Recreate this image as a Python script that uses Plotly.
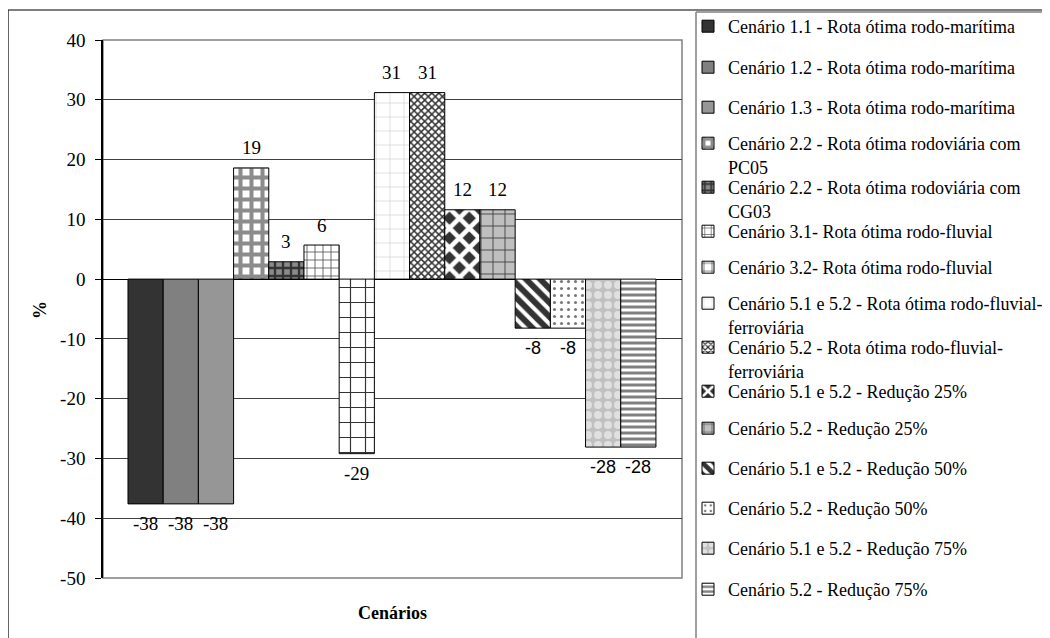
import plotly.graph_objects as go

# ---- data ----
scenarios = [
    "Cenário 1.1 - Rota ótima rodo-marítima",
    "Cenário 1.2 - Rota ótima rodo-marítima",
    "Cenário 1.3 - Rota ótima rodo-marítima",
    "Cenário 2.2 - Rota ótima rodoviária com<br>PC05",
    "Cenário 2.2 - Rota ótima rodoviária com<br>CG03",
    "Cenário 3.1- Rota ótima rodo-fluvial",
    "Cenário 3.2- Rota ótima rodo-fluvial",
    "Cenário 5.1 e 5.2 - Rota ótima rodo-fluvial-<br>ferroviária",
    "Cenário 5.2 - Rota ótima rodo-fluvial-<br>ferroviária",
    "Cenário 5.1 e 5.2 - Redução 25%",
    "Cenário 5.2 - Redução 25%",
    "Cenário 5.1 e 5.2 - Redução 50%",
    "Cenário 5.2 - Redução 50%",
    "Cenário 5.1 e 5.2 - Redução 75%",
    "Cenário 5.2 - Redução 75%",
]
values = [-37.6, -37.6, -37.6, 18.6, 2.9, 5.7, -29.2, 31.2, 31.2, 11.6, 11.6, -8.2, -8.2, -28.1, -28.1]
y_ticks = [-50, -40, -30, -20, -10, 0, 10, 20, 30, 40]
y_tick_labels = ["-50", "-40", "-30", "-20", "-10", "0", "10", "20", "30", "40"]

# ---- geometry (screen px; page body has an 8px margin) ----
OFF = 8
FW, FH = 1050 - OFF, 638 - OFF
PL, PR, PT, PB = 103 - OFF, 682 - OFF, 40 - OFF, 578 - OFF
SERIF = "Liberation Serif"
SANS = "Liberation Sans"


def px_x(sx):
    return (sx - OFF - PL) / (PR - PL)


def px_y(sy):
    return (PB - (sy - OFF)) / (PB - PT)


patterns = [
    None,
    None,
    None,
    dict(shape="+", fgcolor="#8c8c8c", bgcolor="#ffffff", size=11, solidity=0.6),
    dict(shape="+", fgcolor="#333333", bgcolor="#8a8a8a", size=8, solidity=0.5),
    dict(shape="+", fgcolor="#555555", bgcolor="#ffffff", size=8, solidity=0.2),
    dict(shape="+", fgcolor="#333333", bgcolor="#ffffff", size=15, solidity=0.15),
    dict(shape="+", fgcolor="#c8c8c8", bgcolor="#ffffff", size=14, solidity=0.08),
    dict(shape="x", fgcolor="#333333", bgcolor="#ffffff", size=5, solidity=0.5),
    dict(shape="x", fgcolor="#ffffff", bgcolor="#333333", size=14, solidity=0.55),
    dict(shape="+", fgcolor="#444444", bgcolor="#bfbfbf", size=12, solidity=0.15),
    dict(shape="\\", fgcolor="#333333", bgcolor="#ffffff", size=10, solidity=0.6),
    dict(shape=".", fgcolor="#777777", bgcolor="#ffffff", size=7, solidity=0.15),
    dict(shape=".", fgcolor="#e0e0e0", bgcolor="#c0c0c0", size=10, solidity=0.5),
    dict(shape="-", fgcolor="#808080", bgcolor="#ffffff", size=6, solidity=0.5),
]
solid_colors = ["#333333", "#808080", "#969696"]

fig = go.Figure()
for i, (name, v) in enumerate(zip(scenarios, values)):
    pat = patterns[i]
    if pat is None:
        marker = dict(color=solid_colors[i], line=dict(color="#000000", width=1))
    else:
        p = dict(pat)
        p["fillmode"] = "replace"
        marker = dict(color=p["bgcolor"], pattern=p, line=dict(color="#000000", width=1))
    fig.add_trace(go.Bar(
        x=[i], y=[v], width=1, name=name, marker=marker,
        legend="legend" if i == 0 else f"legend{i+1}",
        showlegend=True,
    ))

# data labels
for i, v in enumerate(values):
    fig.add_annotation(
        x=i, y=v, text=f"{round(v):d}", showarrow=False,
        yshift=20 if v > 0 else -20, xref="x", yref="y",
        xanchor="center", yanchor="middle",
        font=dict(family=SANS if i >= 11 else SERIF, size=19 if i < 11 else 18, color="#000"),
    )

# legends: one per entry so each line sits at its own position
legend_first_line_centers = [27, 68, 108, 144, 188, 232, 268, 304, 348, 392, 429, 469, 509, 549, 590]
layout_legends = {}
for i, c in enumerate(legend_first_line_centers):
    key = "legend" if i == 0 else f"legend{i+1}"
    top = c - OFF - 19
    layout_legends[key] = dict(
        x=(728 - OFF - 40) / FW, y=1 - top / FH, xref="container", yref="container",
        xanchor="left", yanchor="top", bgcolor="rgba(0,0,0,0)", borderwidth=0,
        font=dict(family=SERIF, size=18, color="#000"), valign="top",
    )

shapes = [
    # plot area border
    dict(type="rect", xref="paper", yref="paper", x0=0, x1=1, y0=0, y1=1,
         line=dict(color="#808080", width=1.5), layer="below"),
    # outer chart border
    dict(type="rect", xref="paper", yref="paper", x0=px_x(8), x1=px_x(1070),
         y0=px_y(660), y1=px_y(10), line=dict(color="#000000", width=1.2)),
    # legend box border
    dict(type="line", xref="paper", yref="paper", x0=px_x(696), x1=px_x(696),
         y0=px_y(660), y1=px_y(12), line=dict(color="#808080", width=1.5)),
    dict(type="line", xref="paper", yref="paper", x0=px_x(696), x1=px_x(1070),
         y0=px_y(12), y1=px_y(12), line=dict(color="#808080", width=1.5)),
]

fig.update_layout(
    width=FW, height=FH,
    margin=dict(l=PL, r=FW - PR, t=PT, b=FH - PB, autoexpand=False),
    paper_bgcolor="#ffffff", plot_bgcolor="#ffffff",
    barmode="overlay",
    shapes=shapes,
    font=dict(family=SERIF, size=18, color="#000"),
    **layout_legends,
)
fig.update_xaxes(range=[-1.21, 15.24], showticklabels=False, ticks="", showgrid=False,
                 zeroline=False, showline=False, fixedrange=True)
fig.update_yaxes(range=[-50, 40], tickvals=y_ticks, ticktext=y_tick_labels,
                 ticks="outside", ticklen=6,
                 tickcolor="#000", tickfont=dict(family=SERIF, size=19, color="#000"),
                 ticklabelstandoff=6, showgrid=True, gridcolor="#404040", gridwidth=1,
                 zeroline=True, zerolinecolor="#000", zerolinewidth=1,
                 showline=True, linecolor="#000", linewidth=1.5)

fig.add_annotation(text="<b>Cenários</b>", x=0.5, y=px_y(613), xref="paper", yref="paper",
                   xanchor="center", yanchor="middle",
                   showarrow=False, font=dict(family=SERIF, size=18, color="#000"))
fig.add_annotation(text="<b>%</b>", x=px_x(40), y=px_y(310), xref="paper", yref="paper",
                   xanchor="center", yanchor="middle",
                   showarrow=False, textangle=-90, font=dict(family=SERIF, size=18, color="#000"))

fig.write_html("out.html")
